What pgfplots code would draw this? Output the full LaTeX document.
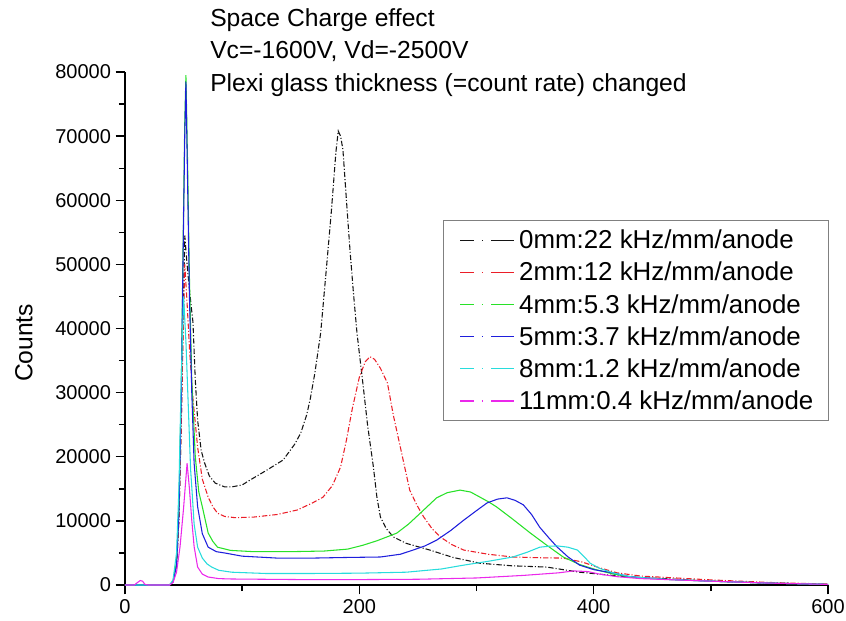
\documentclass[border=0pt]{standalone}
\usepackage{fontspec}
\setmainfont{Liberation Sans}
\usepackage{pgfplots}
\pgfplotsset{compat=1.18}

\definecolor{cblack}{RGB}{20,20,20}
\definecolor{cred}{RGB}{235,30,40}
\definecolor{cgreen}{RGB}{40,225,40}
\definecolor{cblue}{RGB}{30,30,220}
\definecolor{ccyan}{RGB}{40,220,220}
\definecolor{cmag}{RGB}{235,40,235}

\begin{document}
\begin{tikzpicture}
\begin{axis}[
    scale only axis,
    width=527.25pt,
    height=384.75pt,
    xmin=0, xmax=600,
    ymin=0, ymax=80000,
    axis x line=bottom,
    axis y line=left,
    axis line style={-, line width=1.1pt},
    xtick={0,200,400,600},
    minor x tick num=1,
    ytick={0,10000,20000,30000,40000,50000,60000,70000,80000},
    minor y tick num=1,
    tick align=outside,
    major tick length=7pt,
    minor tick length=4.5pt,
    tick style={line width=1pt, black},
    scaled y ticks=false,
    yticklabel style={/pgf/number format/fixed, /pgf/number format/1000 sep={}},
    /pgf/number format/assume math mode=true,
    ticklabel style={font=\fontsize{15}{15}\selectfont},
    ylabel={Counts},
    ylabel style={at={(rel axis cs:-0.1437,0.472)}, anchor=center, font=\fontsize{18.5}{18.5}\selectfont},
    legend style={at={(rel axis cs:0.452,0.711)}, anchor=north west,
        draw=gray, line width=0.8pt, font=\fontsize{19.4}{22}\selectfont,
        row sep=4.5pt, inner xsep=7.5pt, inner ysep=5pt,
        nodes={inner xsep=3.5pt}},
    legend cell align=left,
    legend image code/.code={
        \path (-5pt,0pt);
        \draw[#1, line width=1pt, dash pattern=on 10pt off 6pt on 1.2pt off 6pt on 12pt off 0pt]
            (0pt,0pt) -- (40pt,0pt);
    },
]
\addplot[cblack, line width=0.8pt, dash pattern=on 4pt off 1.5pt on 0.8pt off 1.5pt] coordinates {
(0,0) (20,0) (38,0) (41,500) (44,3000) (46,10000) (48,25000) (49.5,40000) (51,54500)
(53,50000) (55,46000) (58,41000) (60,32000) (62,25700) (65,21000) (68,19000) (72,17000)
(77,15900) (85,15300) (91,15300) (100,15600) (107,16400) (120,17800) (135,19500)
(145,22000) (150,23700) (155,26500) (158,28900) (162,33000) (167,39300) (172,49600)
(176,58000) (178,62700) (180,67500) (182,70800) (184,70000) (186,67900) (189,60000)
(192,52300) (195,45500) (198,39300) (203,31500) (207,25000) (212,18400) (215,13700)
(218,10600) (223,8800) (229,7500) (240,6500) (260,5460) (280,4300) (303,3400)
(330,3000) (360,2800) (388,2000) (410,1600) (431,1250) (460,1000) (500,600) (550,300) (600,100)
};
\addplot[cred, line width=0.8pt, dash pattern=on 4pt off 1.5pt on 0.8pt off 1.5pt] coordinates {
(0,0) (20,0) (38,0) (41,500) (44,3000) (46,10000) (48,25000) (49.5,38000) (51,50000)
(53,44000) (55,37000) (58,29000) (62,21500) (66,16500) (71,13700) (75,12200) (79,11200)
(85,10700) (94,10500) (110,10600) (130,11000) (147,11700) (160,12800) (169,13700)
(177,15500) (184,18400) (189,22600) (194,27500) (200,32400) (205,34800) (209,35600)
(213,35200) (218,33800) (224,31500) (229,26500) (235,21500) (243,14800) (249,12500)
(255,10600) (262,8800) (269,7500) (279,6300) (289,5460) (310,4800) (331,4370)
(355,4250) (374,4200) (390,3600) (403,2800) (420,1900) (440,1400) (470,1100)
(500,800) (550,400) (600,150)
};
\addplot[cgreen, line width=0.8pt] coordinates {
(0,0) (20,0) (38,0) (41,600) (44,3500) (46,12000) (48,30000) (49.5,52000) (51,72000)
(52,79500) (53.5,65000) (55,48000) (57,32000) (60,20000) (63,14500) (66,12200)
(71,8100) (75,6800) (79,5900) (90,5400) (110,5200) (140,5200) (170,5300) (190,5600)
(203,6200) (215,6900) (225,7600) (232,8100) (242,9500) (252,11200) (259,12400)
(266,13600) (275,14400) (286,14800) (295,14500) (303,13700) (310,13000) (317,12200)
(330,10400) (346,8100) (360,6200) (374,4370) (388,3200) (403,2340) (417,1700)
(431,1250) (460,900) (500,600) (550,300) (600,100)
};
\addplot[cblue, line width=0.8pt] coordinates {
(0,0) (20,0) (38,0) (41,500) (44,3000) (46,11000) (48,29000) (49.5,50000) (51,70000)
(52,78500) (53.5,62000) (55,45000) (57,30000) (59,19000) (62,12200) (66,8000)
(71,5900) (78,5200) (85,5000) (100,4500) (130,4200) (160,4200) (190,4300) (218,4370)
(235,4800) (246,5460) (256,6100) (266,7000) (278,8500) (289,10100) (300,11600)
(309,12800) (318,13400) (326,13600) (333,13200) (340,12500) (347,11000) (354,9000)
(362,7300) (369,5900) (378,4400) (388,3100) (400,2400) (417,1870) (431,1300)
(460,900) (500,600) (550,300) (600,100)
};
\addplot[ccyan, line width=0.8pt] coordinates {
(0,0) (20,0) (38,0) (41,800) (44,5000) (46,15000) (48,32000) (50,45000) (52,38000)
(54,28000) (56,18000) (57,15300) (59,9500) (62,5900) (66,4200) (70,3300) (74,2800)
(80,2300) (91,2000) (120,1800) (160,1800) (200,1850) (240,2000) (270,2500)
(289,3100) (310,3700) (331,4370) (343,5100) (354,5900) (362,6050) (369,6100)
(378,5900) (386,5460) (392,4400) (397,3400) (405,2600) (417,1870) (431,1300)
(460,900) (500,600) (550,300) (600,100)
};
\addplot[cmag, line width=0.8pt] coordinates {
(0,0) (8,0) (10,300) (13,700) (15,600) (17,100) (20,0) (38,0) (41,400) (44,2000)
(47,6000) (50,12000) (53,19000) (55,15000) (57,10100) (59,6000) (62,2800) (66,1700)
(71,1250) (80,1000) (91,940) (150,850) (200,850) (250,900) (300,1100) (340,1500)
(370,1900) (383,2200) (395,2100) (405,1700) (420,1300) (440,1000) (470,800)
(500,600) (550,300) (600,100)
};
\legend{0mm:22 kHz/mm/anode, 2mm:12 kHz/mm/anode, 4mm:5.3 kHz/mm/anode,
    5mm:3.7 kHz/mm/anode, 8mm:1.2 kHz/mm/anode, 11mm:0.4 kHz/mm/anode}
\coordinate (ttl) at (rel axis cs:0.1209,1.1248);
\coordinate (bbl) at (rel axis cs:-0.1778,-0.0682);
\coordinate (btr) at (rel axis cs:1.0256,1.1404);
\end{axis}
\node[anchor=north west, align=left, inner sep=0pt, font=\fontsize{18.5}{24.5}\selectfont]
    at (ttl)
    {Space Charge effect\\Vc=-1600V, Vd=-2500V\\Plexi glass thickness (=count rate) changed};
\pgfresetboundingbox
\useasboundingbox (bbl) rectangle (btr);
\end{tikzpicture}
\end{document}
